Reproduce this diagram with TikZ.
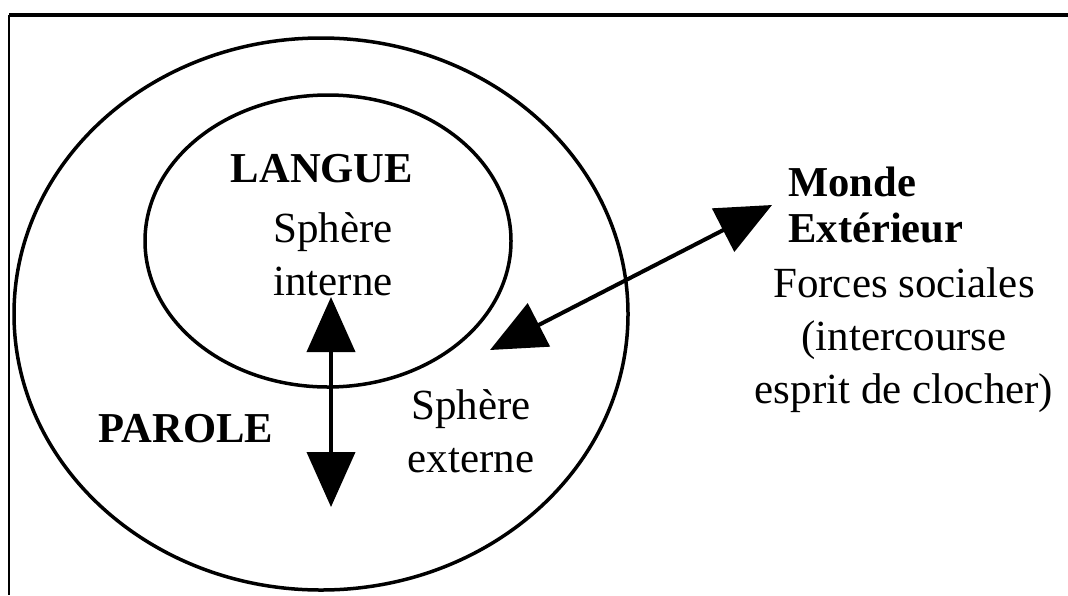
\documentclass[tikz,border=0pt]{standalone}
\usepackage{fontspec}
\setmainfont{Liberation Serif}
\usetikzlibrary{arrows.meta}
\tikzset{
  sphere/.style={line width=1.75pt},
  link/.style={line width=2pt, {Triangle[width=24pt,length=27.5pt]}-{Triangle[width=24pt,length=27.5pt]}},
  txt/.style={align=center, anchor=base, inner sep=0pt, font=\fontsize{21.5}{26.5}\selectfont},
  title/.style={txt, font=\fontsize{21.3}{23}\selectfont\bfseries}
}
\begin{document}
\begin{tikzpicture}[x=0.5pt, y=-0.5pt]
        \useasboundingbox (0,0) rectangle (1068,595);
        \coordinate (frameA) at (1068,15);
        \coordinate (frameB) at (9,15);
        \coordinate (frameC) at (9,595);
        \draw[line width=2pt] (frameB) -- (frameA);
        \draw[line width=1pt] (frameB) -- (frameC);
        
        \draw[sphere] (321,314) ellipse [x radius=307, y radius=276];
        \draw[sphere] (328,241) ellipse [x radius=183, y radius=146];
        
        \node[title] (langue) at (322,182) {LANGUE};
        \node[txt] (interne) at (333,295) {Sphère\\interne};
        \node[title] (parole) at (186,442) {PAROLE};
        \node[txt] (externe) at (471,472) {Sphère\\externe};
        \node[title, align=left, anchor=base west] (monde) at (788,242) {Monde\\Extérieur};
        \node[txt] (forces) at (904,403) {Forces sociales\\(intercourse\\esprit de clocher)};
        
        \coordinate (haut) at (331,297);
        \coordinate (bas) at (331,507);
        \coordinate (dedans) at (490,350);
        \coordinate (dehors) at (772,205);
        \draw[link] (haut) -- (bas);
        \draw[link] (dedans) -- (dehors);
    \end{tikzpicture}
\end{document}
